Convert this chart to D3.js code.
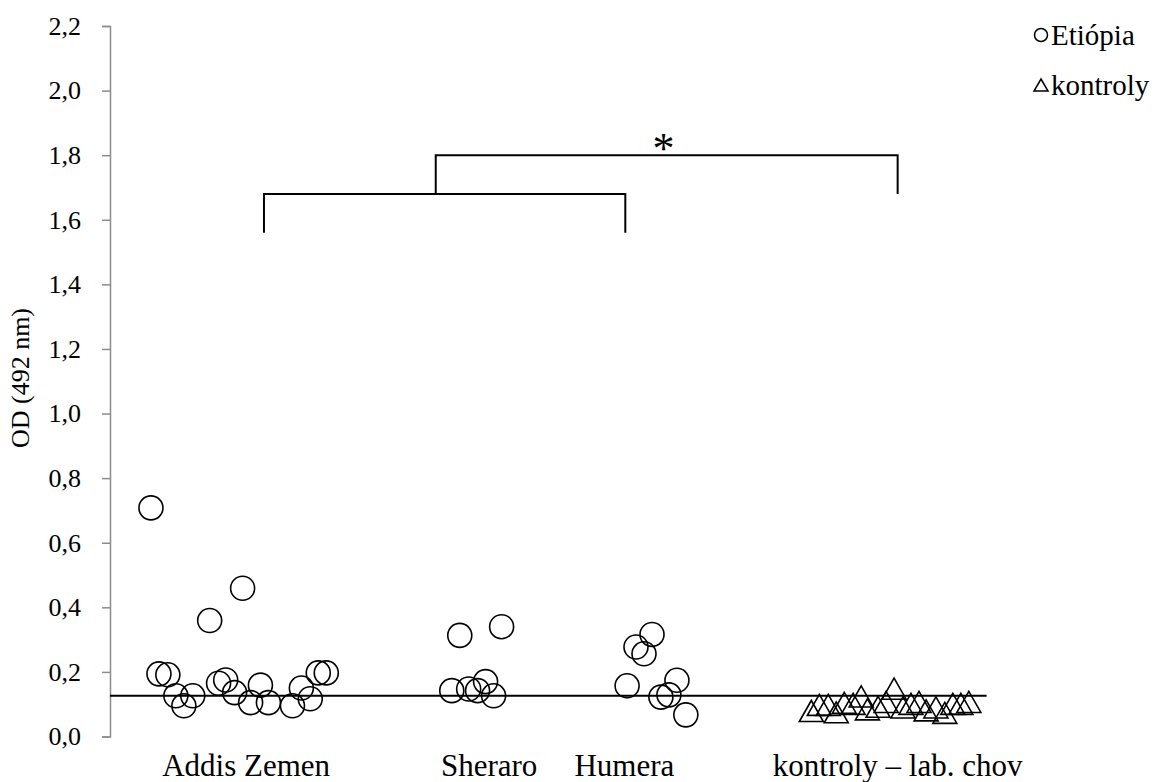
<!DOCTYPE html>
<html>
<head>
<meta charset="utf-8">
<script src="https://cdn.jsdelivr.net/npm/d3@7"></script>
<style>
  body { margin: 0; background: #fff; }
  svg text { font-family: "Liberation Serif", "Times New Roman", serif; fill: #000; }
</style>
</head>
<body>
<div id="chart"></div>
<script>
// x values are positions along the category axis (jittered), y values are OD
const addisX = [0.46, 1.49, 1.12, 0.55, 0.65, 0.74, 0.93, 0.83, 1.22, 1.30, 1.40, 1.69, 1.58, 1.78, 2.05, 2.15, 2.25, 2.34, 2.43];
const addisY = [0.708, 0.459, 0.359, 0.194, 0.191, 0.126, 0.126, 0.095, 0.165, 0.175, 0.136, 0.159, 0.105, 0.105, 0.095, 0.150, 0.117, 0.197, 0.197];
const sheraroX = [3.93, 4.40, 3.84, 4.03, 4.13, 4.22, 4.31];
const sheraroY = [0.313, 0.340, 0.142, 0.147, 0.142, 0.170, 0.126];
const humeraX = [6.09, 5.91, 6.00, 5.81, 6.37, 6.19, 6.28, 6.47];
const humeraY = [0.316, 0.277, 0.256, 0.157, 0.174, 0.122, 0.129, 0.067];
const kontrolyX = [7.88, 7.97, 8.07, 8.16, 8.25, 8.35, 8.44, 8.51, 8.63, 8.72, 8.81, 8.91, 9.00, 9.09, 9.17, 9.28, 9.38, 9.47, 9.56, 9.65];
const kontrolyY = [0.079, 0.098, 0.098, 0.075, 0.104, 0.101, 0.124, 0.084, 0.092, 0.107, 0.148, 0.090, 0.101, 0.107, 0.081, 0.090, 0.073, 0.101, 0.101, 0.107];

const categories = ["Addis Zemen", "Sheraro", "Humera", "kontroly \u2013 lab. chov"];
const categoryX = [1.53, 4.26, 5.78, 8.85];
const yTicks = [0, 0.2, 0.4, 0.6, 0.8, 1.0, 1.2, 1.4, 1.6, 1.8, 2.0, 2.2];
const cutoff = 0.126;
const cutoffRange = [0, 9.85];
const legendLabels = ["Eti\u00f3pia", "kontroly"];
// significance brackets: [x1, x2, yBar, yEnd1, yEnd2]
const brackets = [
  [1.73, 5.79, 1.68, 1.56, 1.56],
  [3.66, 8.85, 1.80, 1.68, 1.68]
];
const starPos = [6.22, 1.84];

const W = 1161, H = 782;
const svg = d3.select("#chart").append("svg")
  .attr("width", W)
  .attr("height", H);

const x = d3.scaleLinear().domain([0, 10]).range([110, 1000]);
const y = d3.scaleLinear().domain([0, 2.2]).range([736.5, 26]);

// y axis
const yAxis = svg.append("g")
  .attr("transform", "translate(" + x(0) + ",0)")
  .call(d3.axisLeft(y).tickValues(yTicks).tickSize(8).tickPadding(21)
    .tickFormat(d => d3.format(".1f")(d).replace(".", ",")));
yAxis.select(".domain").attr("stroke", "#8c8c8c").attr("stroke-width", 1.5);
yAxis.selectAll(".tick line").attr("stroke", "#8c8c8c").attr("stroke-width", 1.5);
yAxis.selectAll(".tick text")
  .style("font-size", "26px")
  .style("font-family", "Liberation Serif, serif");

svg.append("text")
  .attr("transform", "translate(29," + y(1.11) + ") rotate(-90)")
  .attr("text-anchor", "middle")
  .style("font-size", "26px")
  .text("OD (492 nm)");

// category labels
svg.append("g").selectAll("text")
  .data(categories)
  .enter()
  .append("text")
  .attr("x", (d, i) => x(categoryX[i]))
  .attr("y", 776)
  .attr("text-anchor", "middle")
  .style("font-size", "31px")
  .text(d => d);

// cutoff line
svg.append("line")
  .attr("x1", x(cutoffRange[0]))
  .attr("x2", x(cutoffRange[1]))
  .attr("y1", y(cutoff))
  .attr("y2", y(cutoff))
  .attr("stroke", "#000")
  .attr("stroke-width", 2);

// circles
const circleData = [];
[[addisX, addisY], [sheraroX, sheraroY], [humeraX, humeraY]].forEach(g => {
  g[0].forEach((v, i) => circleData.push([v, g[1][i]]));
});
svg.append("g").selectAll("circle")
  .data(circleData)
  .enter()
  .append("circle")
  .attr("cx", d => x(d[0]))
  .attr("cy", d => y(d[1]))
  .attr("r", 12)
  .attr("fill", "none")
  .attr("stroke", "#000")
  .attr("stroke-width", 1.6);

// triangles
const triPath = (w, h) => "M0," + (-h / 2) + "L" + (w / 2) + "," + (h / 2) + "L" + (-w / 2) + "," + (h / 2) + "Z";
svg.append("g").selectAll("path")
  .data(kontrolyX.map((v, i) => [v, kontrolyY[i]]))
  .enter()
  .append("path")
  .attr("transform", d => "translate(" + x(d[0]) + "," + y(d[1]) + ")")
  .attr("d", triPath(24, 21))
  .attr("fill", "none")
  .attr("stroke", "#000")
  .attr("stroke-width", 1.6);

// brackets
svg.append("g").selectAll("path")
  .data(brackets)
  .enter()
  .append("path")
  .attr("d", b => "M" + x(b[0]) + "," + y(b[3]) + "V" + y(b[2]) + "H" + x(b[1]) + "V" + y(b[4]))
  .attr("fill", "none")
  .attr("stroke", "#000")
  .attr("stroke-width", 2);

svg.append("text")
  .attr("x", x(starPos[0]))
  .attr("y", y(starPos[1]) + 21)
  .attr("text-anchor", "middle")
  .style("font-size", "44px")
  .text("*");

// legend
const legend = svg.append("g").attr("transform", "translate(1041,0)");
legend.append("circle")
  .attr("cx", 0).attr("cy", 35).attr("r", 6.5)
  .attr("fill", "none").attr("stroke", "#000").attr("stroke-width", 1.5);
legend.append("path")
  .attr("transform", "translate(0,85)")
  .attr("d", triPath(14, 12))
  .attr("fill", "none").attr("stroke", "#000").attr("stroke-width", 1.5);
legend.selectAll("text")
  .data(legendLabels)
  .enter()
  .append("text")
  .attr("x", 10)
  .attr("y", (d, i) => 45 + i * 50)
  .style("font-size", "29px")
  .text(d => d);
</script>
</body>
</html>
